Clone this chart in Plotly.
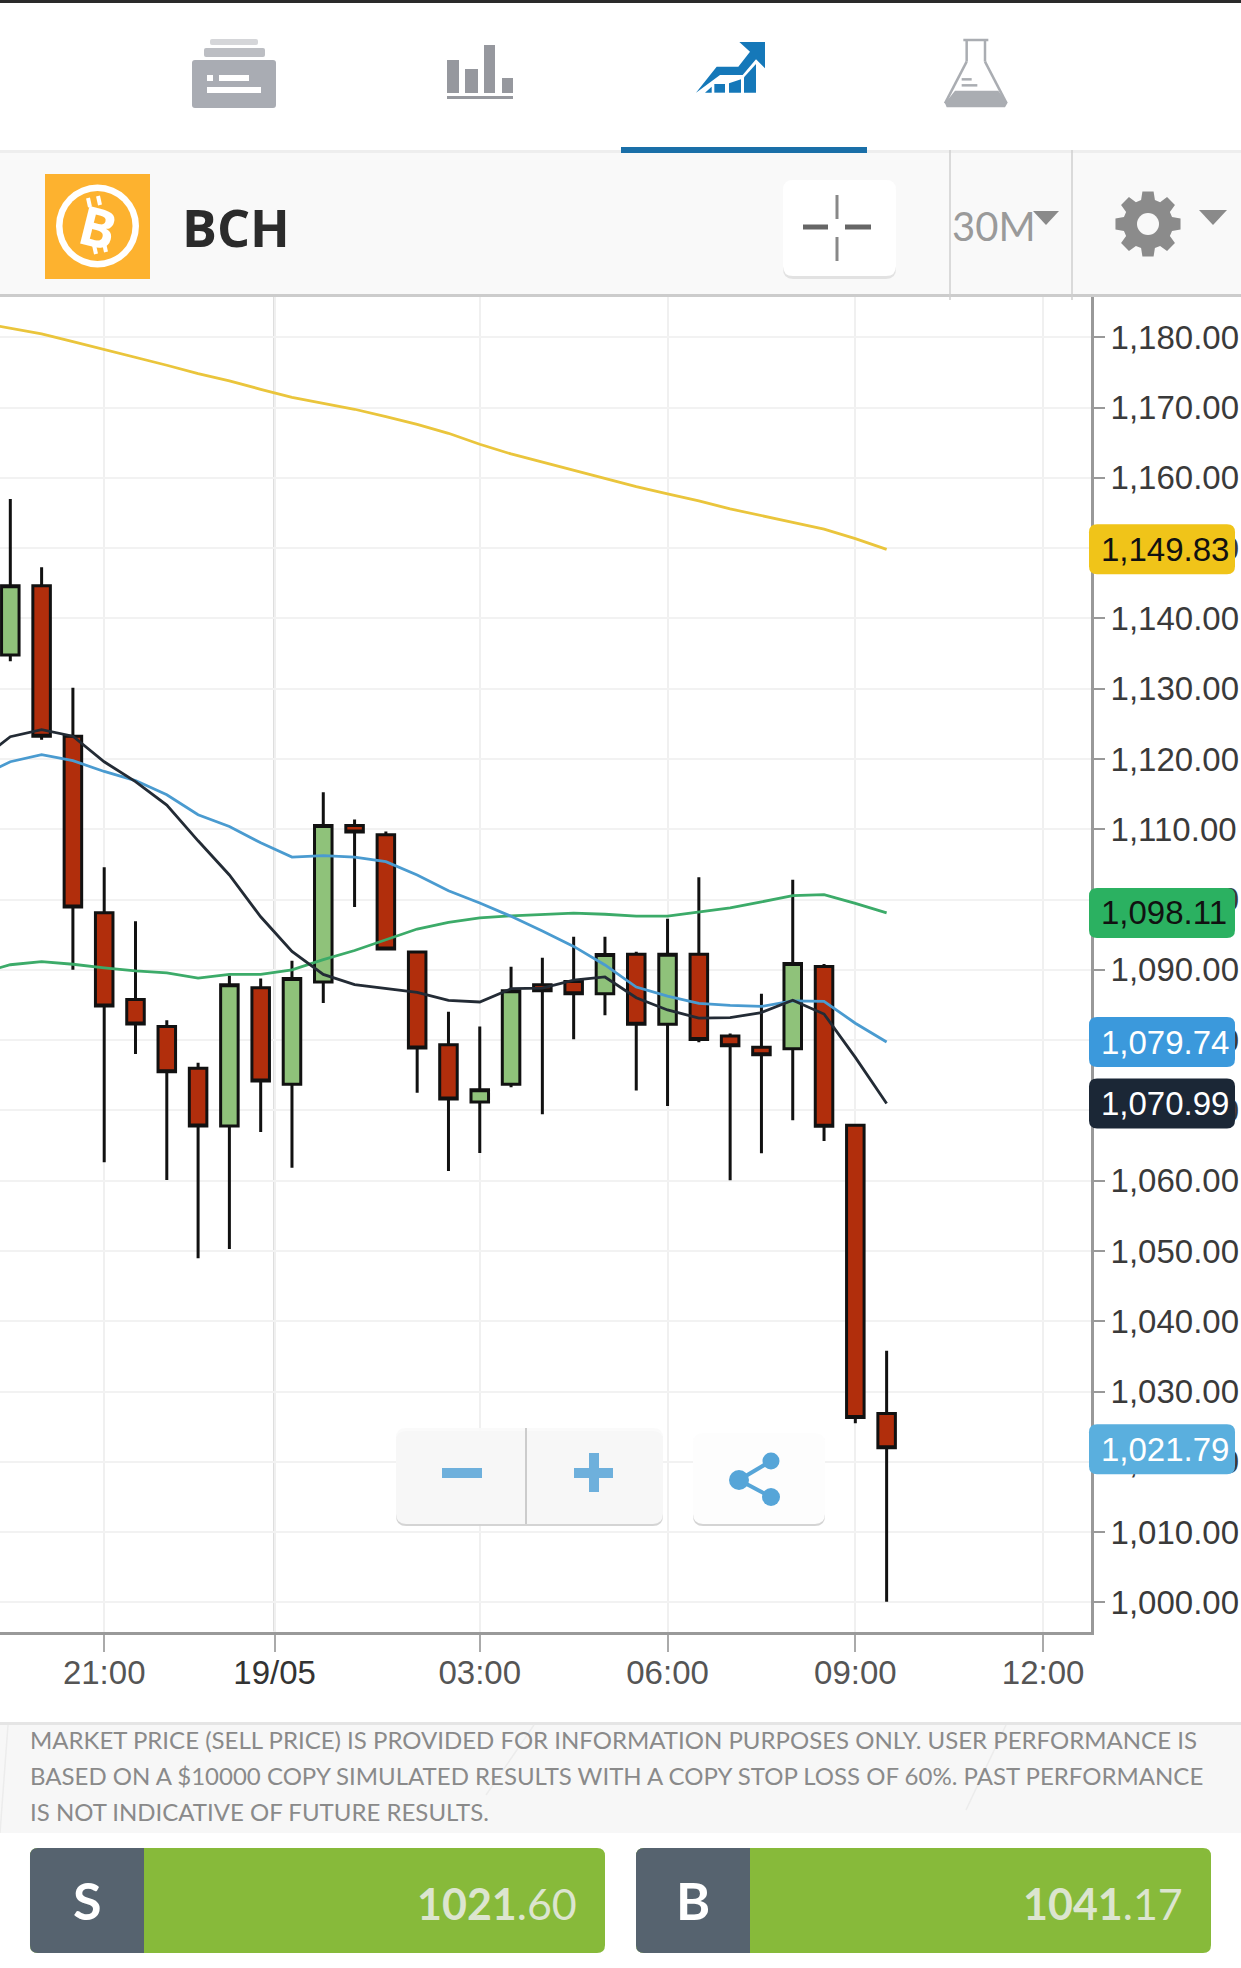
import plotly.graph_objects as go
import pandas as pd
import numpy as np

W, H = 1241, 1968

# candles, oldest first (30 minute bars)
candle_times = pd.date_range("2018-05-18 19:30", periods=29, freq="30min")
opens = [1134.78, 1144.65, 1123.24, 1098.13, 1085.79, 1081.95, 1075.99, 1067.79, 1087.46, 1073.74,
         1088.26, 1110.54, 1109.23, 1092.54, 1079.33, 1071.20, 1073.74, 1087.90, 1088.33, 1086.59,
         1092.21, 1082.27, 1092.21, 1080.60, 1079.00, 1078.78, 1090.47, 1067.89, 1026.89]
highs = [1157.00, 1147.27, 1130.14, 1104.59, 1096.90, 1082.82, 1076.79, 1089.20, 1088.77, 1091.31,
         1115.26, 1111.41, 1109.67, 1092.54, 1084.05, 1081.95, 1090.44, 1091.74, 1094.72, 1094.72,
         1092.57, 1097.29, 1103.17, 1080.96, 1086.62, 1102.81, 1090.83, 1067.89, 1035.81]
lows = [1133.91, 1122.73, 1090.00, 1062.64, 1078.03, 1060.10, 1048.99, 1050.30, 1066.92, 1061.84,
        1085.28, 1098.93, 1092.98, 1072.51, 1061.40, 1063.95, 1073.31, 1069.46, 1080.13, 1083.54,
        1072.83, 1070.65, 1079.72, 1060.06, 1063.90, 1068.62, 1065.64, 1025.51, 1000.10]
closes = [1144.65, 1123.24, 1098.93, 1084.85, 1082.31, 1075.49, 1067.79, 1087.90, 1074.18, 1088.77,
          1110.54, 1109.60, 1092.98, 1078.90, 1071.64, 1072.95, 1087.02, 1087.02, 1086.59, 1092.18,
          1082.27, 1092.21, 1080.09, 1079.22, 1077.91, 1090.90, 1067.75, 1026.31, 1022.02]

# moving averages start one bar earlier, off the left edge
ma_times = pd.date_range("2018-05-18 19:00", periods=30, freq="30min")
ma_black = [1119.70, 1123.17, 1124.19, 1123.24, 1119.61, 1116.78, 1113.45, 1108.36, 1103.50, 1097.55,
            1092.62, 1089.35, 1087.90, 1087.39, 1086.81, 1085.65, 1085.43, 1087.32, 1087.39, 1088.55,
            1088.99, 1086.04, 1084.30, 1083.14, 1083.21, 1083.93, 1085.68, 1083.72, 1077.55, 1070.99]
ma_blue = [1117.44, 1119.61, 1120.63, 1119.76, 1118.23, 1116.93, 1114.90, 1112.07, 1110.39, 1108.07,
           1106.04, 1106.26, 1106.04, 1105.39, 1103.50, 1101.25, 1099.51, 1097.62, 1095.52, 1093.34,
           1090.70, 1087.56, 1086.26, 1085.24, 1084.95, 1084.80, 1085.60, 1085.53, 1082.41, 1079.74]
ma_green = [1089.50, 1090.73, 1091.16, 1090.80, 1090.29, 1089.86, 1089.57, 1088.84, 1089.35, 1089.35,
            1090.00, 1091.45, 1092.76, 1094.28, 1095.81, 1096.75, 1097.40, 1097.69, 1097.91, 1098.06,
            1097.91, 1097.65, 1097.65, 1098.23, 1098.81, 1099.68, 1100.55, 1100.70, 1099.47, 1098.11]
ma_yellow = [1182.10, 1181.28, 1180.47, 1179.38, 1178.29, 1177.15, 1176.02, 1174.83, 1173.79, 1172.60,
             1171.46, 1170.61, 1169.76, 1168.71, 1167.62, 1166.34, 1164.78, 1163.40, 1162.22, 1161.03,
             1159.94, 1158.75, 1157.71, 1156.72, 1155.58, 1154.58, 1153.68, 1152.69, 1151.36, 1149.83]

y_ticks = list(range(1000, 1190, 10))
x_tick_times = ["2018-05-18 21:00", "2018-05-18 23:43:20", "2018-05-19 03:00",
                "2018-05-19 06:00", "2018-05-19 09:00", "2018-05-19 12:00"]
x_tick_labels = ["21:00", '<span style="color:#333">19/05</span>', "03:00", "06:00", "09:00", "12:00"]

price_tags = [(1149.83, "#F0C419", "#111"), (1098.11, "#2BB161", "#111"), (1079.74, "#3B99DC", "#fff"),
              (1070.99, "#1B2736", "#fff"), (1021.79, "#5AAFDE", "#fff")]
disclaimer = ["MARKET PRICE (SELL PRICE) IS PROVIDED FOR INFORMATION PURPOSES ONLY. USER PERFORMANCE IS",
              "BASED ON A $10000 COPY SIMULATED RESULTS WITH A COPY STOP LOSS OF 60%. PAST PERFORMANCE",
              "IS NOT INDICATIVE OF FUTURE RESULTS."]

# pixel helpers, paper coords == whole figure since margins are 0
fx = lambda p: p / W
fy = lambda p: 1 - p / H
AX_Y0, AX_K = 1602.5, 7.029
val_y = lambda v: AX_Y0 - (v - 1000) * AX_K

shapes = []


def poly(pts, color, layer="above"):
    d = "M" + " L".join(f"{fx(x):.5f},{fy(y):.5f}" for x, y in pts) + " Z"
    shapes.append(dict(type="path", xref="paper", yref="paper", path=d, fillcolor=color,
                       line_width=0, layer=layer))


def box(x0, y0, x1, y1, color, r=0, opacity=1):
    if r == 0:
        shapes.append(dict(type="rect", xref="paper", yref="paper", x0=fx(x0), x1=fx(x1), y0=fy(y0), y1=fy(y1),
                           fillcolor=color, line_width=0, opacity=opacity))
        return
    p = lambda x, y: f"{fx(x):.5f},{fy(y):.5f}"
    d = (f"M{p(x0 + r, y0)} L{p(x1 - r, y0)} Q{p(x1, y0)} {p(x1, y0 + r)} L{p(x1, y1 - r)} "
         f"Q{p(x1, y1)} {p(x1 - r, y1)} L{p(x0 + r, y1)} Q{p(x0, y1)} {p(x0, y1 - r)} "
         f"L{p(x0, y0 + r)} Q{p(x0, y0)} {p(x0 + r, y0)} Z")
    shapes.append(dict(type="path", xref="paper", yref="paper", path=d, fillcolor=color,
                       line_width=0, opacity=opacity))


def seg(x0, y0, x1, y1, color, width):
    shapes.append(dict(type="line", xref="paper", yref="paper", x0=fx(x0), x1=fx(x1), y0=fy(y0), y1=fy(y1),
                       line=dict(color=color, width=width)))


def disc(cx, cy, r, color):
    shapes.append(dict(type="circle", xref="paper", yref="paper", x0=fx(cx - r), x1=fx(cx + r),
                       y0=fy(cy - r), y1=fy(cy + r), fillcolor=color, line_width=0))


# top nav
box(0, 0, W, 3, "#2a2a2a")
box(0, 150, W, 156, "#eeeeee")
box(621, 147, 867, 153, "#1A6FA8")
# drawer icon
box(210, 39, 258, 45, "#d5d6d9", 2)
box(204, 48, 265, 57, "#bcbec3", 2)
box(192, 60, 276, 108, "#A9ACB3", 3)
box(207, 75, 213, 81, "#ffffff")
box(219, 75, 249, 81, "#ffffff")
box(207, 87, 261, 93, "#ffffff")
# bars icon
for x0, x1, top in [(447, 459, 60), (465, 478, 69), (484, 495, 45), (502, 513, 78)]:
    box(x0, top, x1, 93, "#96989E")
box(447, 96, 513, 99, "#96989E")
# chart icon
zx = lambda pts: [(670 + x / 3, 20 + y / 3) for x, y in pts]
poly(zx([(78, 218), (140, 140), (205, 140), (240, 95), (208, 66), (285, 66), (285, 145), (258, 118),
         (218, 165), (150, 165)]), "#1578B9")
poly(zx([(105, 218), (125, 200), (125, 218)]), "#1578B9")
poly(zx([(133, 192), (165, 192), (165, 218), (133, 218)]), "#1578B9")
poly(zx([(177, 190), (213, 178), (213, 218), (177, 218)]), "#1578B9")
poly(zx([(222, 172), (258, 132), (258, 218), (222, 218)]), "#1578B9")
# flask icon
for a, b in [((880, 60), (955, 60)), ((890, 60), (890, 125)), ((890, 125), (825, 250)), ((945, 60), (945, 125)),
             ((945, 125), (1010, 250)), ((875, 178), (905, 178)), ((875, 196), (922, 196))]:
    (x0, y0), (x1, y1) = zx([a, b])
    seg(x0, y0, x1, y1, "#aaadb2", 2.5)
poly(zx([(855, 212), (985, 212), (1012, 250), (1005, 262), (830, 262), (825, 250)]), "#aaadb2")

# symbol bar
box(0, 153, W, 294, "#f9f9f9")
box(0, 150, 621, 153, "#eeeeee")
box(867, 150, W, 153, "#eeeeee")
box(0, 294, W, 297, "#cccccc")
seg(950, 150, 950, 300, "#cfcfcf", 1.5)
seg(1072, 150, 1072, 300, "#cfcfcf", 1.5)
box(45, 174, 150, 279, "#FDB22F")
disc(97.5, 226, 41.5, "#ffffff")
disc(97.5, 226, 35, "#FDB22F")
for x0, y0, x1, y1 in [(88, 198, 90, 207), (98, 196, 100, 205), (94, 245, 96, 254), (104, 243, 106, 252)]:
    seg(x0, y0, x1, y1, "#ffffff", 4)
box(783, 183, 896, 279, "#e2e2e2", 10)
box(783, 180, 896, 276, "#ffffff", 10)
seg(837, 195, 837, 219, "#888888", 3)
seg(837, 237, 837, 261, "#888888", 3)
seg(803, 227, 828, 227, "#666666", 5)
seg(845, 227, 871, 227, "#666666", 5)
poly([(1033, 211), (1059, 211), (1046, 225)], "#8a8a8a")
poly([(1199, 210), (1227, 210), (1213, 225)], "#8a8a8a")
# gear
teeth = []
for i in range(8):
    a = np.pi / 4 * i
    for da, r in [(-0.28, 25), (-0.17, 33), (0.17, 33), (0.28, 25)]:
        teeth.append((1148 + r * np.cos(a + da), 224 + r * np.sin(a + da)))
poly(teeth, "#8b8b8b")
disc(1148, 224, 11, "#f9f9f9")

# zoom and share buttons
box(396, 1431, 663, 1526, "#cfcfcf", 10, 0.9)
box(396, 1428, 663, 1524, "#fafafa", 10, 0.92)
seg(526, 1428, 526, 1524, "#cccccc", 2)
box(442, 1468, 482, 1478, "#6EB0DC")
box(574, 1468, 613, 1478, "#6EB0DC")
box(589, 1453, 599, 1492, "#6EB0DC")
box(693, 1433, 825, 1526, "#cfcfcf", 10, 0.9)
box(693, 1430, 825, 1524, "#ffffff", 10, 0.95)
seg(739, 1480, 771, 1461, "#56A5D8", 4)
seg(739, 1480, 771, 1497, "#56A5D8", 4)
disc(739, 1480, 10, "#56A5D8")
disc(771, 1461, 8.5, "#56A5D8")
disc(771, 1497, 9, "#56A5D8")

# footer
box(0, 1722, W, 1725, "#e5e5e5")
box(0, 1725, W, 1833, "#f7f7f7")
for x0, y0, x1, y1 in [(534, 1725, 486, 1795), (1006, 1725, 966, 1810), (8, 1725, 0, 1833)]:
    seg(x0, y0, x1, y1, "#ececec", 1.5)
box(30, 1848, 605, 1953, "#87BA3A", 8)
box(30, 1848, 144, 1953, "#56636F", 8)
box(120, 1848, 144, 1953, "#56636F")
box(636, 1848, 1211, 1953, "#87BA3A", 8)
box(636, 1848, 750, 1953, "#56636F", 8)
box(726, 1848, 750, 1953, "#56636F")

# price tags sit over the tick labels
for v, bg, _ in price_tags:
    box(1089, val_y(v) - 25, 1235, val_y(v) + 25, bg, 8)

# day separator, over the gridlines but under the candles
shapes.append(dict(type="line", xref="x", yref="paper", x0=x_tick_times[1], x1=x_tick_times[1],
                   y0=fy(1631.5), y1=fy(297), line=dict(color="#cccccc", width=2.5), layer="between"))


def txt(x, y, s, size, color, font="Liberation Sans", anchor="left", angle=0):
    return dict(xref="paper", yref="paper", x=fx(x), y=fy(y), text=s, showarrow=False, xanchor=anchor,
                yanchor="middle", textangle=angle, font=dict(family=font, size=size, color=color))


notes = [txt(180, 226, "<b>BCH</b>", 52, "#2b2b2b", "Open Sans"),
         txt(97.5, 226, "<b>B</b>", 54, "#ffffff", "Open Sans", "center", 14),
         txt(950, 226, "30M", 40, "#9a9a9a", "Lato"),
         txt(87, 1900, "<b>S</b>", 52, "#ffffff", "Lato", "center"),
         txt(692.5, 1900, "<b>B</b>", 52, "#ffffff", "Lato", "center"),
         txt(579, 1903, "<b>1021</b>.60", 43, "#DCE5CF", "Lato", "right"),
         txt(1185, 1903, "<b>1041</b>.17", 43, "#DCE5CF", "Lato", "right")]
for i, line in enumerate(disclaimer):
    notes.append(txt(28, 1739 + 36 * i, line, 24, "#8a8a8a", "Lato"))
for v, _, fg in price_tags:
    notes.append(txt(1099, val_y(v), f"{v:,.2f}", 33, fg))

fig = go.Figure()
fig.add_trace(go.Candlestick(x=candle_times, open=opens, high=highs, low=lows, close=closes,
                             increasing=dict(fillcolor="#8FC27A", line=dict(color="#111111", width=3)),
                             decreasing=dict(fillcolor="#B12E0C", line=dict(color="#111111", width=3)),
                             whiskerwidth=0, showlegend=False, hoverinfo="skip"))
for vals, col in [(ma_yellow, "#EAC53C"), (ma_green, "#3CAB69"), (ma_blue, "#4A9BD0"), (ma_black, "#232B35")]:
    fig.add_trace(go.Scatter(x=ma_times, y=vals, mode="lines", line=dict(color=col, width=2.8),
                             showlegend=False, hoverinfo="skip"))

fig.update_layout(
    width=W, height=H, margin=dict(l=0, r=0, t=0, b=0), paper_bgcolor="#ffffff", plot_bgcolor="#ffffff",
    boxgap=0.3, boxgroupgap=0.2, shapes=shapes, annotations=notes,
    font=dict(family="Liberation Sans"),
    xaxis=dict(domain=[0, 1091 / W], type="date", range=["2018-05-18 19:20:07", "2018-05-19 12:45:54"],
               rangeslider=dict(visible=False), tickmode="array", tickvals=x_tick_times, ticktext=x_tick_labels,
               showgrid=True, gridcolor="#f0f0f0", gridwidth=2, zeroline=False,
               showline=True, linecolor="#999999", linewidth=3, ticks="outside", ticklen=17, tickwidth=1.5,
               tickcolor="#aaaaaa", tickangle=0, ticklabelstandoff=-7, tickfont=dict(size=33, color="#555555")),
    yaxis=dict(domain=[1 - 1631.5 / H, 1 - 297 / H], side="right", range=[995.87, 1185.73], tickmode="array",
               tickvals=y_ticks, tickformat=",.2f", showgrid=True, gridcolor="#f2f2f2", gridwidth=2, zeroline=False,
               showline=True, linecolor="#999999", linewidth=3, ticks="outside", ticklen=11, tickwidth=2,
               tickcolor="#999999", ticklabelstandoff=-1, tickfont=dict(size=33, color="#3a3a3a")),
)

fig.write_html("out.html", config=dict(displayModeBar=False), post_script="document.body.style.margin='0';")
